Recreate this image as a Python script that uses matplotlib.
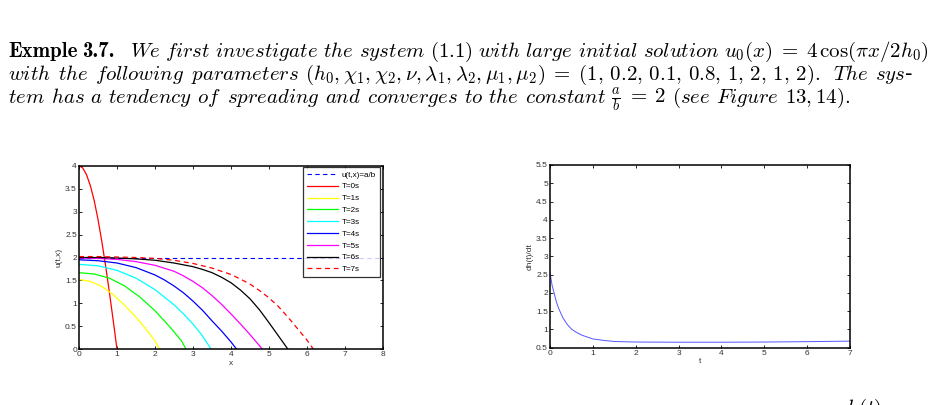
import matplotlib
matplotlib.use('Agg')
import matplotlib.pyplot as plt
from matplotlib.ticker import FormatStrFormatter

plt.rcParams['mathtext.fontset'] = 'cm'

W, H = 936, 405

# ---------------- data ----------------
labels_T = ['T=0s', 'T=1s', 'T=2s', 'T=3s', 'T=4s', 'T=5s', 'T=6s', 'T=7s']
colors_T = ['#ff0000', '#ffff00', '#00ff00', '#00ffff', '#0000ff', '#ff00ff', '#000000', '#ff0000']
styles_T = ['-', '-', '-', '-', '-', '-', '-', '--']

x_T0 = [0, 0.1, 0.2, 0.3, 0.4, 0.5, 0.6, 0.7, 0.8, 0.9, 1.0]
u_T0 = [4.0, 3.95, 3.80, 3.56, 3.24, 2.83, 2.35, 1.82, 1.24, 0.63, 0.0]
x_T1 = [0, 0.3, 0.6, 0.9, 1.2, 1.5, 1.8, 2.0, 2.12]
u_T1 = [1.52, 1.48, 1.37, 1.19, 0.96, 0.70, 0.40, 0.18, 0.0]
x_T2 = [0, 0.4, 0.8, 1.2, 1.6, 2.0, 2.4, 2.7, 2.82]
u_T2 = [1.67, 1.64, 1.55, 1.38, 1.14, 0.84, 0.48, 0.18, 0.0]
x_T3 = [0, 0.5, 1.0, 1.5, 2.0, 2.5, 2.75, 3.0, 3.25, 3.48]
u_T3 = [1.85, 1.82, 1.72, 1.55, 1.30, 0.97, 0.77, 0.55, 0.29, 0.0]
x_T4 = [0, 0.5, 1.0, 1.5, 2.0, 2.25, 2.5, 2.75, 3.0, 3.25, 3.5, 3.75, 4.0, 4.15]
u_T4 = [1.95, 1.93, 1.88, 1.78, 1.62, 1.51, 1.38, 1.23, 1.05, 0.85, 0.62, 0.40, 0.16, 0.0]
x_T5 = [0, 0.5, 1.0, 1.5, 2.0, 2.5, 2.75, 3.0, 3.25, 3.5, 3.75, 4.0, 4.25, 4.5, 4.83]
u_T5 = [1.99, 1.98, 1.96, 1.91, 1.83, 1.70, 1.60, 1.48, 1.34, 1.17, 0.98, 0.77, 0.55, 0.32, 0.0]
x_T6 = [0, 0.5, 1.0, 1.5, 2.0, 2.5, 3.0, 3.25, 3.5, 3.75, 4.0, 4.25, 4.5, 4.75, 5.0, 5.25, 5.5]
u_T6 = [2.0, 2.0, 1.99, 1.97, 1.94, 1.88, 1.80, 1.74, 1.67, 1.57, 1.45, 1.29, 1.10, 0.86, 0.58, 0.29, 0.0]
x_T7 = [0, 0.5, 1.0, 1.5, 2.0, 2.5, 3.0, 3.5, 4.0, 4.25, 4.5, 4.75, 5.0, 5.25, 5.5, 5.75, 6.0, 6.17]
u_T7 = [2.02, 2.02, 2.01, 2.0, 1.98, 1.94, 1.87, 1.77, 1.63, 1.53, 1.42, 1.28, 1.12, 0.93, 0.70, 0.45, 0.20, 0.0]

x_ab = [0, 8]
u_ab = [2, 2]

t_h = [0, 0.05, 0.1, 0.15, 0.2, 0.3, 0.4, 0.5, 0.6, 0.75, 1.0, 1.25, 1.5, 2, 3, 4, 5, 6, 7]
dh_h = [2.55, 2.2, 1.98, 1.75, 1.58, 1.32, 1.14, 1.01, 0.93, 0.84, 0.74, 0.70, 0.67,
        0.655, 0.65, 0.65, 0.655, 0.665, 0.68]

xticks_left = [0, 1, 2, 3, 4, 5, 6, 7, 8]
yticks_left = [0, 0.5, 1, 1.5, 2, 2.5, 3, 3.5, 4]
xticks_right = [0, 1, 2, 3, 4, 5, 6, 7]
yticks_right = [0.5, 1, 1.5, 2, 2.5, 3, 3.5, 4, 4.5, 5, 5.5]

# ---------------- figure ----------------
fig = plt.figure(figsize=(W / 100, H / 100), dpi=100)


def it(s):
    return r"$\mathit{" + s + "}$"


BOLD = {'family': 'cmb10'}

# tokens: text, or (text, font kwargs, extra space after in px)
line1 = [("Exmple", BOLD, 0), ("3.7.", BOLD, 10), it("We"), it("first"), it("investigate"),
         it("the"), it("system"), r"$(1.1)$", it("with"), it("large"), it("initial"),
         it("solution"), r"$u_0(x)\;=\;4\,\cos(\pi x/2h_0)$"]
line2 = [it("with"), it("the"), it("following"), it("parameters"),
         (r"$(h_0,\chi_1,\chi_2,\nu,\lambda_1,\lambda_2,\mu_1,\mu_2)\;=\;(1,\,0.2,\,0.1,\,0.8,\,1,\,2,\,1,\,2).$", {}, 6),
         it("The"), it("sys") + "-"]
line3 = [it("tem"), it("has"), it("a"), it("tendency"), it("of"), it("spreading"), it("and"),
         it("converges"), it("to"), it("the"), it("constant"), r"$\frac{a}{b}\;=\;2$",
         r"$\mathit{(see}$", it("Figure"), r"$\mathit{13,14).}$"]

FS = 15
renderer = fig.canvas.get_renderer()


def place_line(tokens, x0, x1, ybase, justify=True, gap=None):
    texts, extras = [], []
    for tok in tokens:
        if isinstance(tok, tuple):
            s, kw, ex = tok
        else:
            s, kw, ex = tok, {}, 0
        texts.append(fig.text(0, 0, s, fontsize=FS, va='baseline', ha='left', **kw))
        extras.append(ex)
    widths = [t.get_window_extent(renderer).width for t in texts]
    if justify:
        gap = (x1 - x0 - sum(widths) - sum(extras[:-1])) / (len(tokens) - 1)
    x = x0
    for t, w, ex in zip(texts, widths, extras):
        t.set_position((x / W, 1 - ybase / H))
        x += w + gap + ex
    return gap


place_line(line1, 8, 929, 57)
place_line(line2, 8, 913, 80)
place_line(line3, 8, None, 103, justify=False, gap=5.6)

fig.text(846 / W, 1 - 414 / H, r"$h(t)$", fontsize=FS, va='baseline', ha='left')

tick_color = '#333333'


def style_axes(ax):
    for s in ax.spines.values():
        s.set_linewidth(1.1)
        s.set_color('black')
    ax.tick_params(direction='in', top=True, right=True, length=2.5, width=0.6,
                   labelsize=6, pad=1.5, labelcolor=tick_color, labelfontfamily='Liberation Sans')
    ax.xaxis.set_major_formatter(FormatStrFormatter('%g'))
    ax.yaxis.set_major_formatter(FormatStrFormatter('%g'))


# Left plot
ax1 = fig.add_axes([79 / W, 1 - 349.3 / H, 304 / W, 183.6 / H])
ax1.plot(x_ab, u_ab, color='#0000ff', ls='--', lw=0.8, dashes=(4, 3), label='u(t,x)=a/b')
series = [(x_T0, u_T0), (x_T1, u_T1), (x_T2, u_T2), (x_T3, u_T3),
          (x_T4, u_T4), (x_T5, u_T5), (x_T6, u_T6), (x_T7, u_T7)]
for (xs, us), lab, c, st in zip(series, labels_T, colors_T, styles_T):
    if st == '--':
        ax1.plot(xs, us, color=c, lw=0.9, ls='--', dashes=(4, 3), label=lab)
    else:
        ax1.plot(xs, us, color=c, lw=0.9, label=lab)
ax1.set_xlim(0, 8)
ax1.set_ylim(0, 4)
ax1.set_xticks(xticks_left)
ax1.set_yticks(yticks_left)
style_axes(ax1)
ax1.set_xlabel('x', fontsize=6, labelpad=1, color=tick_color, family='Liberation Sans')
ax1.set_ylabel('u(t,x)', fontsize=6, labelpad=2, color=tick_color, family='Liberation Sans')
leg = ax1.legend(loc='upper right', frameon=True, fancybox=False, borderaxespad=0,
                 handlelength=3.8, handletextpad=0.5, labelspacing=0.52, borderpad=0.5,
                 prop={'family': 'Liberation Sans', 'size': 5.8})
leg.set_bbox_to_anchor(((380 - 79) / 304, (349.3 - 167) / 183.6), transform=ax1.transAxes)
leg.get_frame().set_edgecolor('black')
leg.get_frame().set_linewidth(0.9)

# Right plot
ax2 = fig.add_axes([550 / W, 1 - 347.7 / H, 300 / W, 182.7 / H])
ax2.plot(t_h, dh_h, color='#5555ff', lw=0.7)
ax2.set_xlim(0, 7)
ax2.set_ylim(0.5, 5.5)
ax2.set_xticks(xticks_right)
ax2.set_yticks(yticks_right)
style_axes(ax2)
ax2.set_xlabel('t', fontsize=6, labelpad=1, color=tick_color, family='Liberation Sans')
ax2.set_ylabel('dh(t)/dt', fontsize=6, labelpad=2, color=tick_color, family='Liberation Sans')

fig.savefig('out.png', dpi=100)
